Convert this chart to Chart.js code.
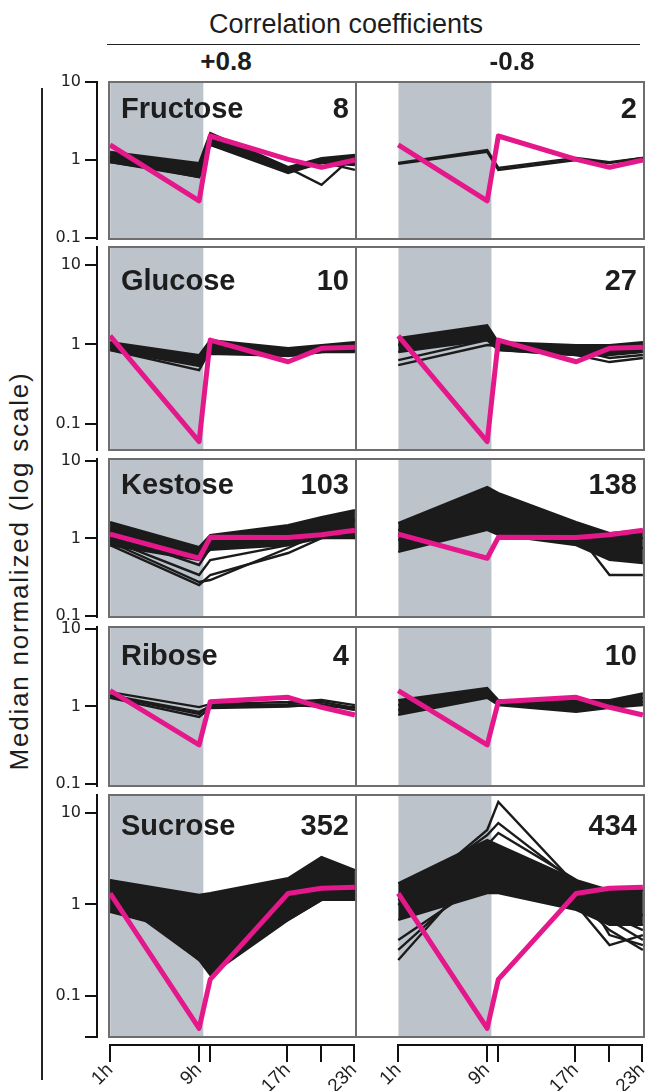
<!DOCTYPE html>
<html>
<head>
<meta charset="utf-8">
<script src="https://cdn.jsdelivr.net/npm/chart.js@4.4.0/dist/chart.umd.min.js"></script>
<style>
  body { margin: 0; width: 645px; height: 1091px; position: relative; overflow: hidden; background: #fff;
         font-family: 'Liberation Sans', Arial, sans-serif; color: #1d1d1d; }
  canvas { position: absolute; }
  .txt { position: absolute; white-space: nowrap; z-index: 5; }
  .name { font-weight: bold; font-size: 29px; line-height: 29px; }
  .count { font-weight: bold; font-size: 29px; line-height: 29px; text-align: right; width: 200px; }
  .rule { position: absolute; background: #222; }
</style>
</head>
<body>
<div class="txt" style="left:346px; top:11px; font-size:27px; line-height:27px; transform:translateX(-50%);">Correlation coefficients</div>
<div class="rule" style="left:107px; top:43.5px; width:533px; height:1.5px;"></div>
<div class="txt" style="left:226px; top:48px; font-size:26px; line-height:26px; font-weight:bold; transform:translateX(-50%);">+0.8</div>
<div class="txt" style="left:512px; top:48px; font-size:26px; line-height:26px; font-weight:bold; transform:translateX(-50%);">-0.8</div>
<div class="rule" style="left:41px; top:88px; width:1.5px; height:992px;"></div>
<div class="txt" style="left:19px; top:571px; font-size:26px; line-height:26px; letter-spacing:1.8px; transform:translate(-50%,-50%) rotate(-90deg);">Median normalized (log scale)</div>

<script>
// time points (hours) and axis ticks
const hours = [1, 9, 10, 17, 20, 23];
const tickHours = [1, 9, 10, 17, 20, 23];
const tickLabels = ['1h', '9h', '', '17h', '', '23h'];
const nightEnd = 9.4;

const sugars = ['Fructose', 'Glucose', 'Kestose', 'Ribose', 'Sucrose'];
const countsPos = [8, 10, 103, 4, 352];
const countsNeg = [2, 27, 138, 10, 434];

// pink: the sugar's own profile (same in both columns)
const fructoseRef = [1.56, 0.30, 2.03, 1.02, 0.805, 1.0];
const glucoseRef = [1.28, 0.06, 1.135, 0.605, 0.893, 0.92];
const kestoseRef = [1.14, 0.555, 1.035, 1.03, 1.12, 1.28];
const riboseRef = [1.60, 0.318, 1.15, 1.31, 0.975, 0.775];
const sucroseRef = [1.32, 0.0443, 0.152, 1.32, 1.50, 1.54];

// black: correlated features (+0.8 column); dense bundles as upper/lower edges
const fructosePosUpper = [1.27, 0.915, 2.22, 0.81, 1.06, 1.16];
const fructosePosLower = [0.94, 0.605, 1.56, 0.68, 0.915, 0.86];
const fructosePos = [
  [1.09, 0.79, 1.91, 0.745, 0.915, 1.0],
  [0.94, 0.64, 1.70, 0.70, 0.94, 0.745],
  [1.0, 0.605, 1.56, 0.79, 0.48, 1.16],
];
const glucosePosUpper = [1.07, 0.735, 1.135, 0.902, 0.983, 1.07];
const glucosePosLower = [0.85, 0.534, 0.758, 0.715, 0.802, 0.802];
const glucosePos = [
  [0.955, 0.60, 1.01, 0.802, 0.902, 0.955],
  [0.85, 0.476, 0.85, 0.715, 0.802, 0.85],
];
const kestosePosUpper = [1.63, 0.776, 1.11, 1.49, 1.89, 2.33];
const kestosePosLower = [0.82, 0.527, 0.71, 0.82, 1.01, 1.01];
const kestosePos = [
  [1.285, 0.612, 0.955, 1.285, 1.49, 1.73],
  [1.11, 0.455, 0.753, 1.11, 1.285, 1.36],
  [0.955, 0.338, 0.527, 0.82, 1.11, 1.21],
  [0.82, 0.251, 0.338, 0.649, 1.01, 1.075],
  [0.90, 0.274, 0.291, 0.753, 1.175, 1.01],
];
const ribosePos = [
  [1.53, 0.98, 1.07, 1.14, 1.21, 1.04],
  [1.40, 0.85, 1.0, 1.07, 1.14, 0.955],
  [1.29, 0.73, 0.955, 1.0, 1.07, 0.90],
  [1.35, 0.80, 1.04, 1.04, 1.0, 0.98],
];
const sucrosePosUpper = [1.85, 1.27, 1.33, 1.94, 3.30, 2.38];
const sucrosePosLower = [0.826, 0.463, 0.408, 0.676, 1.12, 1.12];
const sucrosePosUpper2 = [1.85, 0.766, 0.766, 1.12, 1.44, 1.63];
const sucrosePosLower2 = [1.44, 0.247, 0.169, 0.676, 1.12, 1.12];
const sucrosePos = [
  [1.27, 0.247, 0.318, 0.766, 1.27, 1.44],
];

// black: anti-correlated features (-0.8 column)
const fructoseNeg = [
  [0.915, 1.34, 0.79, 1.06, 0.94, 1.06],
  [0.89, 1.27, 0.745, 1.0, 0.915, 1.06],
];
const glucoseNegUpper = [1.20, 1.75, 1.07, 0.983, 0.983, 1.07];
const glucoseNegLower = [0.802, 1.135, 0.85, 0.735, 0.735, 0.802];
const glucoseNeg = [
  [0.983, 1.52, 0.983, 0.902, 0.85, 0.983],
  [0.636, 1.135, 0.85, 0.735, 0.60, 0.675],
  [0.55, 0.983, 0.955, 0.85, 0.675, 0.735],
];
const kestoseNegUpper = [1.58, 4.61, 3.86, 1.63, 1.175, 1.285];
const kestoseNegLower = [0.668, 1.285, 1.11, 0.82, 0.527, 0.482];
const kestoseNeg = [
  [1.285, 3.13, 2.70, 1.49, 0.955, 1.01],
  [0.955, 2.01, 1.73, 1.285, 0.753, 0.753],
  [1.11, 2.70, 2.33, 1.21, 0.338, 0.338],
];
const riboseNegUpper = [1.21, 1.73, 1.21, 1.21, 1.21, 1.48];
const riboseNegLower = [0.775, 1.29, 1.04, 0.85, 0.955, 1.04];
const riboseNeg = [
  [1.04, 1.53, 1.14, 1.04, 1.10, 1.29],
  [0.90, 1.35, 1.07, 0.90, 1.01, 1.14],
];
const sucroseNegUpper = [1.71, 5.06, 4.46, 1.85, 1.44, 1.44];
const sucroseNegLower = [0.676, 1.33, 1.33, 0.869, 0.596, 0.596];
const sucroseNeg = [
  [0.986, 6.51, 13.2, 1.63, 0.986, 0.766],
  [1.12, 5.74, 7.76, 1.71, 0.766, 0.525],
  [1.27, 4.46, 6.03, 1.85, 0.463, 0.36],
  [0.247, 3.06, 2.38, 1.27, 0.676, 0.408],
  [0.318, 2.38, 1.85, 1.12, 0.525, 0.318],
  [0.408, 1.85, 1.63, 0.986, 0.36, 0.463],
];

const panels = [
  { ref: fructoseRef,
    pos: { bands: [[fructosePosUpper, fructosePosLower]], lines: fructosePos },
    neg: { bands: [], lines: fructoseNeg } },
  { ref: glucoseRef,
    pos: { bands: [[glucosePosUpper, glucosePosLower]], lines: glucosePos },
    neg: { bands: [[glucoseNegUpper, glucoseNegLower]], lines: glucoseNeg } },
  { ref: kestoseRef,
    pos: { bands: [[kestosePosUpper, kestosePosLower]], lines: kestosePos },
    neg: { bands: [[kestoseNegUpper, kestoseNegLower]], lines: kestoseNeg } },
  { ref: riboseRef,
    pos: { bands: [], lines: ribosePos },
    neg: { bands: [[riboseNegUpper, riboseNegLower]], lines: riboseNeg } },
  { ref: sucroseRef,
    pos: { bands: [[sucrosePosUpper, sucrosePosLower], [sucrosePosUpper2, sucrosePosLower2]], lines: sucrosePos },
    neg: { bands: [[sucroseNegUpper, sucroseNegLower]], lines: sucroseNeg } },
];

// page geometry of the panel boxes
const rows = [
  { top: 82, bottom: 239, min: 0.097, max: 10, ticks: [10, 1, 0.1], baseline: 118 },
  { top: 247, bottom: 450, min: 0.047, max: 16.8, ticks: [10, 1, 0.1], baseline: 290 },
  { top: 459, bottom: 617, min: 0.097, max: 10.6, ticks: [10, 1, 0.1], baseline: 494 },
  { top: 627, bottom: 786, min: 0.094, max: 10.6, ticks: [10, 1, 0.1], baseline: 665 },
  { top: 795, bottom: 1037, min: 0.0356, max: 15.7, ticks: [10, 1, 0.1, 0.0356], baseline: 835 },
];
const cols = [
  { left: 109, right: 356, xMin: 0.9, xMax: 23.1, countRight: 349 },
  { left: 356, right: 644, xMin: -2.8, xMax: 23.1, countRight: 637 },
];

const PINK = '#e4188a';
const INK = '#1b1b1b';
const SHADE = '#bcc3cb';

Chart.defaults.font.family = 'Liberation Sans';
Chart.defaults.font.size = 19;

function addCanvas(x, y, w, h) {
  const c = document.createElement('canvas');
  c.width = w;
  c.height = h;
  c.style.left = x + 'px';
  c.style.top = y + 'px';
  c.style.width = w + 'px';
  c.style.height = h + 'px';
  document.body.appendChild(c);
  return c;
}

function addText(cls, text, x, y) {
  const d = document.createElement('div');
  d.className = 'txt ' + cls;
  d.textContent = text;
  d.style.left = x + 'px';
  d.style.top = y + 'px';
  document.body.appendChild(d);
}

const toPoints = (vals) => vals.map((v, i) => ({ x: hours[i], y: v }));

function lineSet(vals, color, width, order, fill) {
  return {
    data: toPoints(vals),
    borderColor: color,
    backgroundColor: color,
    borderWidth: width,
    borderJoinStyle: 'miter',
    pointRadius: 0,
    fill: fill || false,
    order,
  };
}

const framePlugin = {
  id: 'frame',
  afterDatasetsDraw(chart) {
    const { ctx, chartArea: a } = chart;
    ctx.save();
    ctx.strokeStyle = '#6e6e6e';
    ctx.lineWidth = 2;
    ctx.strokeRect(a.left, a.top, a.right - a.left, a.bottom - a.top);
    ctx.restore();
  },
};

const baseOptions = {
  responsive: false,
  animation: false,
  events: [],
  plugins: { legend: { display: false }, tooltip: { enabled: false } },
  elements: { point: { radius: 0 }, line: { tension: 0 } },
};

function drawPanel(row, col, ref, set) {
  const cv = addCanvas(col.left - 2, row.top - 2, col.right - col.left + 4, row.bottom - row.top + 4);
  const datasets = [];
  datasets.push({
    data: [{ x: 1, y: row.max }, { x: nightEnd, y: row.max }],
    borderWidth: 0, pointRadius: 0, backgroundColor: SHADE, fill: 'start', order: 30,
  });
  set.bands.forEach(([upper, lower]) => {
    datasets.push(lineSet(upper, INK, 2.2, 20, '+1'));
    datasets.push(lineSet(lower, INK, 2.2, 20));
  });
  set.lines.forEach((l) => datasets.push(lineSet(l, INK, 2.4, 10)));
  const pink = lineSet(ref, PINK, 5, 0);
  pink.borderJoinStyle = 'round';
  datasets.push(pink);

  new Chart(cv, {
    type: 'line',
    data: { datasets },
    options: {
      ...baseOptions,
      layout: { padding: 2 },
      scales: {
        x: { type: 'linear', min: col.xMin, max: col.xMax, display: false },
        y: { type: 'logarithmic', min: row.min, max: row.max, display: false },
      },
    },
    plugins: [framePlugin],
  });
}

function drawYAxis(row) {
  const P = 14, W = 44, axisX = 97;
  const cv = addCanvas(axisX - W, row.top - P, W + 6, row.bottom - row.top + 2 * P);
  new Chart(cv, {
    type: 'line',
    data: { datasets: [] },
    options: {
      ...baseOptions,
      layout: { padding: { top: P, bottom: P, left: 0, right: 0 } },
      scales: {
        x: { type: 'linear', min: 0, max: 1, display: false },
        y: {
          type: 'logarithmic', position: 'left', min: row.min, max: row.max,
          afterBuildTicks: (s) => { s.ticks = row.ticks.map((v) => ({ value: v })); },
          afterFit: (s) => { s.width = W; },
          ticks: {
            callback: (v) => (v === 10 ? '10' : v === 1 ? '1' : v === 0.1 ? '0.1' : ''),
            font: { family: 'DejaVu Sans', size: 16 },
            color: '#222',
            padding: 4,
          },
          grid: { drawOnChartArea: false, drawTicks: true, tickLength: 12, color: '#111', lineWidth: 2 },
          border: { display: true, color: '#111', width: 2 },
        },
      },
    },
  });
}

function drawXAxis(col) {
  const pxPerHour = (col.right - col.left) / (col.xMax - col.xMin);
  const x1 = col.left + (1 - col.xMin) * pxPerHour;
  const x2 = col.left + (23 - col.xMin) * pxPerHour;
  const PL = 34, PR = 12, H = 50, A = 4, axisY = 1045;
  const cvLeft = Math.round(x1 - PL);
  const cv = addCanvas(cvLeft, axisY - A, Math.round(x2 - x1 + PL + PR), H);
  new Chart(cv, {
    type: 'line',
    data: { datasets: [] },
    options: {
      ...baseOptions,
      layout: { padding: { left: x1 - cvLeft, right: PR, top: 0, bottom: 0 } },
      scales: {
        x: {
          type: 'linear', position: 'bottom', min: 1, max: 23,
          afterBuildTicks: (s) => { s.ticks = tickHours.map((v) => ({ value: v })); },
          afterFit: (s) => { s.height = H - A; },
          ticks: {
            autoSkip: false, minRotation: 45, maxRotation: 45, padding: -3,
            callback: (v, i) => tickLabels[i],
            font: { family: 'Liberation Sans', size: 19 },
            color: '#222',
          },
          grid: { drawOnChartArea: false, drawTicks: true, tickLength: 17, color: '#111', lineWidth: 2 },
          border: { display: true, color: '#111', width: 2 },
        },
        y: { type: 'linear', min: 0, max: 1, display: false },
      },
    },
  });
}

rows.forEach((row, r) => {
  drawYAxis(row);
  drawPanel(row, cols[0], panels[r].ref, panels[r].pos);
  drawPanel(row, cols[1], panels[r].ref, panels[r].neg);
  const top = row.baseline - 24.5;
  addText('name', sugars[r], 121, top);
  addText('count', String(countsPos[r]), cols[0].countRight - 200, top);
  addText('count', String(countsNeg[r]), cols[1].countRight - 200, top);
});
cols.forEach(drawXAxis);
</script>
</body>
</html>
